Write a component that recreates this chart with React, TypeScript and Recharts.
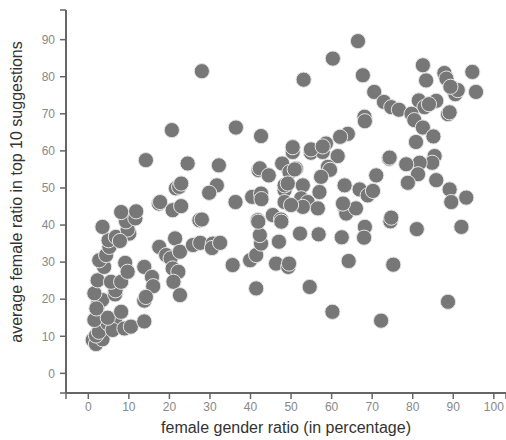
import React from "react";
import { ScatterChart, Scatter, XAxis, YAxis, Label } from "recharts";

const xTicks = [-5.5, 0, 10, 20, 30, 40, 50, 60, 70, 80, 90, 100, 103];
const yTicks = [-5.3, 0, 10, 20, 30, 40, 50, 60, 70, 80, 90, 98];
const xTickLabels = [0, 10, 20, 30, 40, 50, 60, 70, 80, 90, 100];
const yTickLabels = [0, 10, 20, 30, 40, 50, 60, 70, 80, 90];

const femaleGenderRatio = [
  1.1, 1.9, 3.5, 1.9, 2.6, 4.8, 6.6, 6.0, 8.9, 10.5, 13.8, 1.5, 4.8, 8.1, 2.3, 3.4, 1.5, 6.6, 6.7, 2.3,
  5.6, 8.1, 3.9, 2.7, 4.4, 5.2, 5.0, 6.8, 10.1, 9.1, 9.7, 3.5, 9.7, 9.3, 11.6, 8.1, 11.8, 7.8, 13.8, 15.7,
  16.0, 13.8, 14.2, 17.5, 19.2, 20.3, 20.8, 22.2, 21.0, 22.6, 21.4, 22.6, 2.0,
  14.2, 20.6, 28.0, 24.5, 32.2, 36.4, 42.6, 17.4, 17.7, 20.8, 22.9, 21.6, 22.4, 22.9, 31.7, 29.8, 36.3,
  40.4, 42.6, 42.7, 42.0, 42.3, 44.5, 47.8, 48.4, 48.4, 45.5, 47.5, 41.8, 27.4, 28.0, 25.8, 27.6, 30.7,
  30.5, 32.5, 35.6, 39.9, 41.4, 42.6, 42.3, 41.9, 41.4, 47.0, 46.3, 49.3, 49.5, 47.6, 52.2, 56.8, 62.5,
  68.2, 68.0, 64.2, 54.6, 60.2, 72.2, 75.2, 74.5, 74.7, 81.0, 92.0, 88.7,
  50.4, 54.9, 57.8, 61.5, 74.2, 49.6, 51.2, 50.9, 59.1, 59.6, 57.4, 52.9, 48.4, 49.2, 71.0, 63.2, 66.9,
  68.9, 70.2, 52.5, 54.1, 57.0, 56.6, 52.9, 50.0, 63.2, 63.6, 66.0, 62.8,
  66.5, 60.3, 53.1, 67.7, 70.5, 72.9, 74.7, 76.6, 68.1, 68.2, 64.0, 62.1, 58.6, 50.4, 54.9, 57.8,
  82.5, 83.3, 87.8, 88.3, 94.7, 95.6, 90.5, 91.1, 89.3, 85.8, 81.5, 82.9, 84.0, 79.7, 88.7, 89.1, 80.4,
  82.5, 85.1, 80.8, 85.4, 84.8, 81.7, 78.4, 81.3, 78.8, 85.8, 89.1, 89.5, 93.2, 74.3,
];

const femaleRatioTop10 = [
  9.0, 7.9, 9.2, 10.2, 11.2, 13.5, 14.0, 11.7, 12.1, 12.6, 14.0, 14.4, 15.0, 16.6, 18.4, 19.8, 21.6, 21.3, 22.4, 25.1,
  24.7, 24.7, 28.7, 30.5, 31.9, 34.1, 35.9, 36.8, 37.7, 29.8, 27.4, 39.5, 38.8, 41.0, 41.8, 43.5, 43.7, 35.7, 28.7, 26.0,
  23.5, 19.6, 20.6, 34.1, 31.9, 31.0, 28.3, 27.4, 24.7, 21.1, 36.4, 32.8, 17.5,
  57.5, 65.6, 81.5, 56.6, 56.1, 66.3, 64.0, 45.8, 46.2, 44.0, 45.1, 49.9, 50.3, 51.2, 50.7, 48.7, 46.2,
  47.6, 48.5, 47.0, 54.8, 55.3, 53.4, 56.6, 49.4, 46.2, 42.7, 41.5, 41.3, 41.3, 41.5, 34.6, 35.2, 35.0,
  33.8, 35.2, 29.2, 30.5, 31.9, 35.0, 37.3, 40.9, 22.9, 35.5, 29.6, 28.7, 29.6, 40.9, 37.7, 37.5, 36.7,
  39.5, 36.6, 30.3, 23.3, 16.6, 14.2, 29.3, 41.0, 42.0, 38.9, 39.5, 19.3,
  59.7, 59.5, 59.7, 58.6, 57.9, 54.3, 55.2, 55.0, 55.7, 54.9, 53.0, 50.7, 50.7, 51.2, 53.4, 50.7, 49.6,
  48.0, 49.2, 47.2, 46.2, 48.9, 44.5, 44.9, 45.4, 44.9, 43.1, 44.5, 45.8,
  89.6, 84.9, 79.2, 80.4, 75.9, 73.2, 71.8, 71.1, 69.2, 68.0, 64.6, 63.8, 62.0, 61.0, 60.4, 61.2,
  83.1, 79.0, 81.0, 79.5, 81.3, 75.9, 75.3, 76.4, 77.3, 73.5, 73.6, 71.8, 72.6, 70.0, 69.9, 70.4, 68.3,
  66.3, 63.9, 62.4, 58.6, 56.8, 56.8, 56.4, 53.7, 51.4, 52.1, 49.6, 46.2, 47.4, 58.2,
];

const data = femaleGenderRatio.map((x, i) => ({ x, y: femaleRatioTop10[i] }));

const fmtX = (v: number) => (xTickLabels.includes(v) ? String(v) : "");
const fmtY = (v: number) => (yTickLabels.includes(v) ? String(v) : "");

const Dot = (props: any) => (
  <circle cx={props.cx} cy={props.cy} r={7.6} fill="#777777" stroke="#e6e6e6" strokeWidth={1} />
);

const FONT = "Liberation Sans, Arial, sans-serif";

export default function App() {
  return (
    <div style={{ position: "absolute", left: 0, top: 0, width: 506, height: 440 }}>
      <ScatterChart width={506} height={440} margin={{ top: 10, right: 0, bottom: 0, left: 0 }}>
        <XAxis
          type="number"
          dataKey="x"
          domain={[-5.5, 103]}
          ticks={xTicks}
          tickFormatter={fmtX}
          interval={0}
          allowDataOverflow
          height={47}
          tickSize={6}
          tickMargin={3}
          stroke="#666"
          strokeWidth={2}
          tick={{ fill: "#888", fontSize: 12, fontFamily: FONT }}
          tickLine={{ stroke: "#666", strokeWidth: 1.5 }}
        >
          <Label
            content={() => (
              <text x={286} y={433} textAnchor="middle" fill="#333" fontSize={16} fontFamily={FONT}>
                female gender ratio (in percentage)
              </text>
            )}
          />
        </XAxis>
        <YAxis
          type="number"
          dataKey="y"
          domain={[-5.3, 98]}
          ticks={yTicks}
          tickFormatter={fmtY}
          interval={0}
          allowDataOverflow
          width={66}
          tickSize={6}
          tickMargin={5}
          stroke="#666"
          strokeWidth={2}
          tick={{ fill: "#888", fontSize: 12, fontFamily: FONT }}
          tickLine={{ stroke: "#666", strokeWidth: 1.5 }}
        >
          <Label
            content={() => (
              <text x={22} y={192} transform="rotate(-90 22 192)" textAnchor="middle" fill="#333" fontSize={16} fontFamily={FONT}>
                average female ratio in top 10 suggestions
              </text>
            )}
          />
        </YAxis>
        <Scatter data={data} shape={Dot} isAnimationActive={false} />
      </ScatterChart>
    </div>
  );
}
